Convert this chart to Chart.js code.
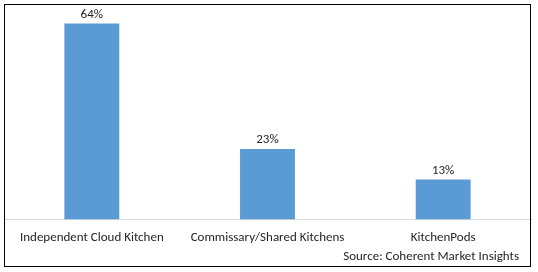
<!DOCTYPE html>
<html>
<head>
<meta charset="utf-8">
<script src="https://cdn.jsdelivr.net/npm/chart.js@4.4.1/dist/chart.umd.min.js"></script>
<style>
    html, body { margin: 0; padding: 0; background: #fff; }
    #wrap { width: 538px; height: 272px; position: relative; }
</style>
</head>
<body>
<div id="wrap"><canvas id="chart" width="538" height="272"></canvas></div>
<script>
// Данные диаграммы
const categories = ['Independent Cloud Kitchen', 'Commissary/Shared Kitchens', 'KitchenPods'];
const shares = [64, 23, 13];
const sourceText = 'Source: Coherent Market Insights';

const FONT = 'Carlito, Lato, "Liberation Sans", sans-serif';
const TEXT_COLOR = '#262626';

// Рамка вокруг диаграммы и подпись источника
const framePlugin = {
    id: 'frame',
    afterDraw(chart) {
        const ctx = chart.ctx;
        ctx.save();
        ctx.strokeStyle = '#000';
        ctx.lineWidth = 1;
        ctx.strokeRect(4.5, 4.5, 526, 262);
        ctx.fillStyle = TEXT_COLOR;
        ctx.font = '13px ' + FONT;
        ctx.textAlign = 'right';
        ctx.textBaseline = 'middle';
        ctx.fillText(sourceText, 519, 257);
        ctx.restore();
    }
};

// Подписи значений над столбцами
const valueLabels = {
    id: 'valueLabels',
    afterDatasetsDraw(chart) {
        const ctx = chart.ctx;
        const meta = chart.getDatasetMeta(0);
        ctx.save();
        ctx.fillStyle = TEXT_COLOR;
        ctx.font = '13px ' + FONT;
        ctx.textAlign = 'center';
        ctx.textBaseline = 'middle';
        meta.data.forEach((bar, i) => {
            ctx.fillText(shares[i] + '%', bar.x, bar.y - 9);
        });
        ctx.restore();
    }
};

new Chart(document.getElementById('chart'), {
    type: 'bar',
    data: {
        labels: categories,
        datasets: [{
            data: shares,
            backgroundColor: '#5B9BD5',
            borderWidth: 0,
            categoryPercentage: 1,
            barPercentage: 0.3125
        }]
    },
    options: {
        responsive: false,
        animation: false,
        layout: { padding: { left: 4, right: 7, top: 5, bottom: 15 } },
        plugins: {
            legend: { display: false },
            tooltip: { enabled: false }
        },
        scales: {
            y: {
                display: false,
                min: 0,
                max: 70
            },
            x: {
                grid: { display: false, drawTicks: false },
                border: { display: true, color: '#d9d9d9', width: 1 },
                ticks: {
                    color: TEXT_COLOR,
                    padding: 11,
                    maxRotation: 0,
                    autoSkip: false,
                    font: { family: FONT, size: 13 }
                }
            }
        }
    },
    plugins: [framePlugin, valueLabels]
});
</script>
</body>
</html>
